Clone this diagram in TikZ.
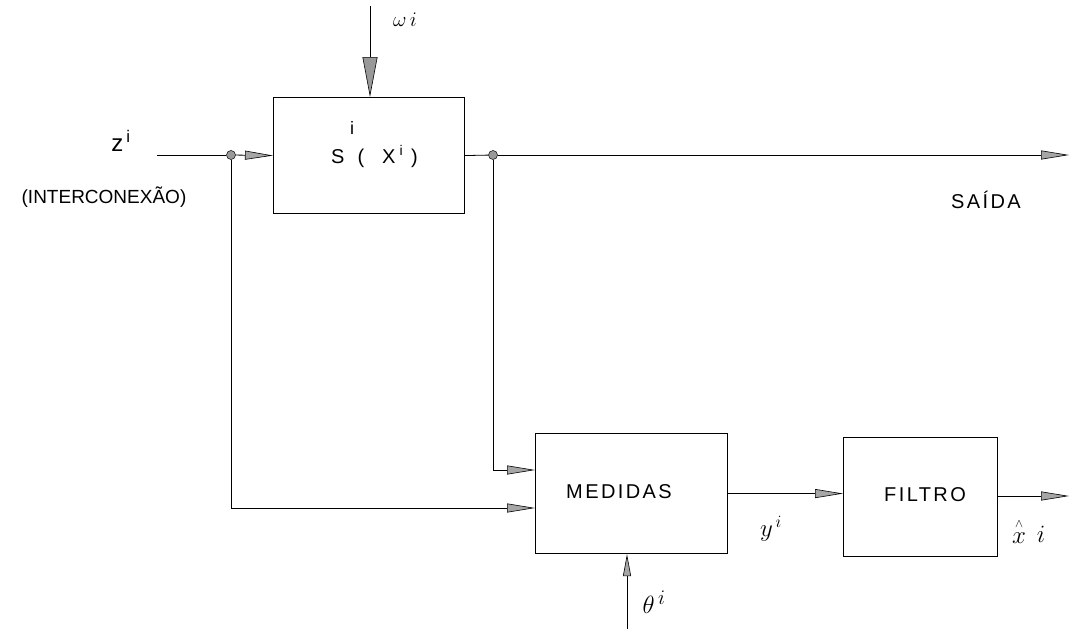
\documentclass[tikz,border=0pt]{standalone}
\usepackage{fontspec}
\usepackage{amsmath}
\setmainfont{Liberation Sans}
\newfontfamily\spaced[LetterSpace=12]{Liberation Sans}
\usetikzlibrary{arrows.meta}
\begin{document}
\begin{tikzpicture}[x=1pt,y=-1pt,
  blk/.style={draw, line width=1.1pt, inner sep=0pt, anchor=north west},
  wire/.style={line width=0.8pt},
  tip/.style={wire,-{Triangle[length=28pt,width=9pt,fill=gray!70,line width=0.6pt]}},
  smalltip/.style={wire,-{Triangle[length=22pt,width=8pt,fill=gray!70,line width=0.6pt]}},
  bigtip/.style={wire,-{Triangle[length=40pt,width=15pt,fill=gray!80,line width=0.6pt]}},
  dotj/.style={circle, fill=gray!80, draw=black, line width=0.5pt, inner sep=0pt, minimum size=9pt},
  lab/.style={font=\fontsize{20}{24}\selectfont, inner sep=0pt},
  mlab/.style={font=\fontsize{24}{28}\selectfont, inner sep=0pt}]
\useasboundingbox (0,0) rectangle (1069,629);

% blocks
\node[blk, minimum width=191pt, minimum height=116pt] (S) at (273,97) {};
\node[blk, minimum width=192pt, minimum height=120pt] (M) at (535,433) {};
\node[blk, minimum width=154pt, minimum height=119pt] (F) at (843,437) {};

\node[lab] (Mt) at (619,492) {\spaced MEDIDAS};
\node[lab] (Ft) at (925,495) {\spaced FILTRO};
\node[lab, font=\fontsize{18}{20}\selectfont] (Si) at (352,128) {i};
\node[lab, anchor=base west] (St) at (331,163) {S\hspace{13pt}(\hspace{18pt}X\hspace{4pt}\textsuperscript{i}\hspace{8pt})};

% junctions and free ends
\coordinate (zin) at (157,155);
\node[dotj] (J1) at (231,155) {};
\node[dotj] (J2) at (493,155) {};
\coordinate (out) at (1069,155);
\coordinate (m1) at (535,470);
\coordinate (m2) at (535,508);
\coordinate (w) at (370,6);
\coordinate (t) at (627,629);
\coordinate (xo) at (1069,496);

% connectors
\draw[wire] (zin) -- (J1);
\draw[tip] (J1) -- (S.west);
\draw[wire] (S.east) -- (J2);
\draw[tip] (J2) -- (out);
\draw[tip] (J2) |- (m1);
\draw[tip] (J1) |- (m2);
\draw[tip] (M.east) -- (M.east -| F.west);
\draw[tip] (F.east |- xo) -- (xo);
\draw[bigtip] (w) -- (w |- S.north);
\draw[smalltip] (t) -- (t |- M.south);

% labels
\node[lab, font=\fontsize{24}{28}\selectfont] (zl) at (121,141) {z\textsuperscript{\hspace{3pt}i}};
\node[lab, font=\fontsize{19}{22}\selectfont] (il) at (104,197) {(INTERCONEXÃO)};
\node[mlab, font=\fontsize{20}{24}\selectfont] (wl) at (405,20) {$\omega\,i$};
\node[lab] (sl) at (986,200) {\spaced SAÍDA};
\node[mlab] (yl) at (771,529) {$y^{\,i}$};
\node[mlab] (xl) at (1019,531) {$\overset{\scriptscriptstyle\wedge}{x}$};
\node[mlab] (xi) at (1041,534) {$i$};
\node[mlab, font=\fontsize{28}{32}\selectfont] (tl) at (654,602) {$\theta^{\,i}$};
\end{tikzpicture}
\end{document}
